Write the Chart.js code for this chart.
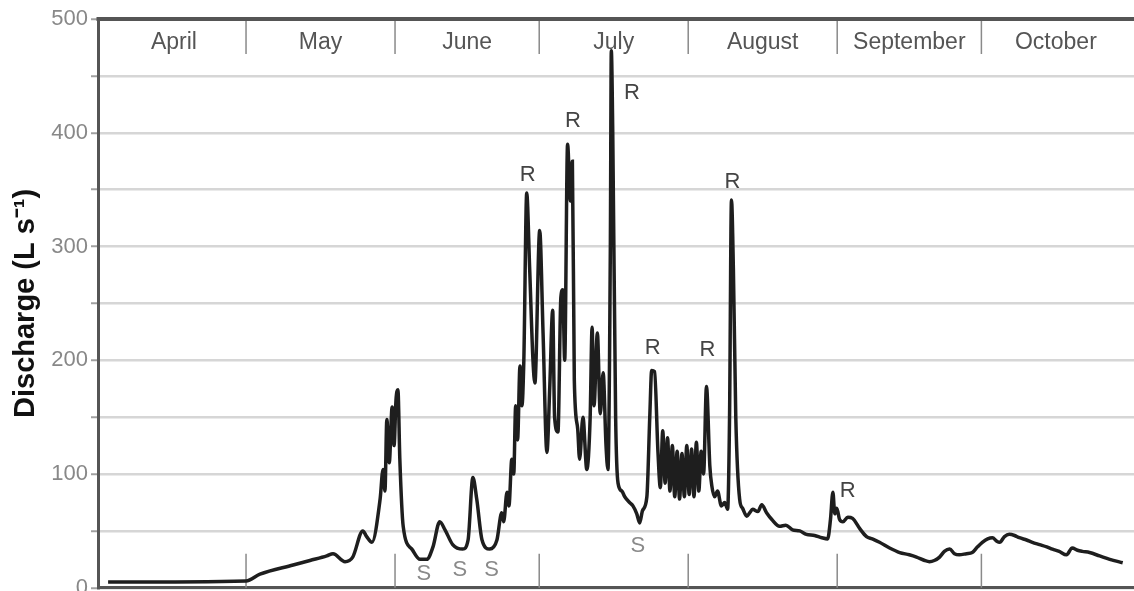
<!DOCTYPE html>
<html>
<head>
<meta charset="utf-8">
<script src="https://cdn.jsdelivr.net/npm/chart.js@4"></script>
<style>
  html, body { margin: 0; padding: 0; background: #fff; overflow: hidden; }
  #wrap { width: 1140px; height: 604px; }
</style>
</head>
<body>
<div id="wrap"><canvas id="chart" width="1140" height="604"></canvas></div>
<script>
// Tage ab 1. April und Abfluss (L/s)
const days = [
    1.3, 30, 32.9, 39.8, 43.3, 46.8, 48.1, 50.6, 52.2, 54.3,
    55.1, 56.2, 57.9, 58.5, 58.9, 59.3, 59.8, 60.4, 60.8, 61.2,
    61.6, 62.0, 62.7, 64.5, 66.2, 67.6, 68.9, 70.3, 71.4, 73.0,
    75.1, 76.2, 77.2, 78.0, 79.1, 80.7, 82.2, 83.2, 83.6, 84.3,
    84.7, 85.3, 85.7, 86.1, 86.5, 87.0, 87.4, 87.8, 88.4, 89.0,
    89.7, 90.1, 91.1, 91.8, 92.6, 93.2, 93.8, 94.2, 94.9, 95.5,
    95.9, 96.3, 96.9, 97.5, 97.9, 98.3, 99.0, 99.4, 100.1, 100.9,
    101.6, 102.0, 102.4, 103.1, 103.7, 104.3, 104.9, 105.3, 105.8, 106.0,
    106.3, 106.9, 107.4, 108.2, 108.8, 109.8, 110.5, 111.3, 111.9, 112.5,
    113.4, 114.0, 114.4, 115.0, 115.7, 116.2, 116.7, 117.2, 117.7, 118.2,
    118.7, 119.2, 119.7, 120.2, 120.7, 121.2, 121.7, 122.2, 122.7, 123.2,
    123.7, 124.2, 124.7, 125.2, 125.8, 126.5, 126.9, 127.5, 128.1, 128.9,
    129.6, 130.2, 130.6, 131.0, 131.4, 131.9, 132.7, 133.3, 134.2, 134.8,
    135.4, 136.5, 137.3, 138.3, 139.4, 141.0, 142.3, 143.7, 145.2, 146.6,
    148.3, 149.8, 151.0, 151.6, 152.1, 152.5, 152.9, 153.5, 154.2, 155.2,
    156.2, 157.7, 159.1, 160.3, 161.8, 163.9, 166.0, 168.0, 169.5, 171.2,
    172.2, 173.2, 174.3, 175.3, 176.4, 177.4, 178.4, 179.9, 181.1, 182.2,
    183.2, 184.3, 185.3, 186.2, 186.8, 187.8, 188.8, 189.9, 190.9, 192.4,
    193.6, 195.1, 196.6, 197.8, 199.2, 200.7, 201.9, 203.0, 204.0, 205.5,
    207.6, 209.7, 212.4
];
const discharge = [
    5, 6, 12, 20, 24, 28, 30, 23, 27, 50,
    45, 40, 78, 104, 85, 148, 110, 159, 125, 165,
    174, 113, 54, 34, 25, 25, 36, 58, 51, 38,
    34, 42, 97, 78, 42, 34, 42, 66, 58, 84,
    72, 113, 100, 160, 130, 195, 160, 200, 347, 282,
    200, 180, 314, 224, 119, 177, 244, 150, 137, 255,
    262, 200, 390, 340, 375, 183, 140, 113, 150, 104,
    150, 229, 160, 224, 153, 189, 125, 104, 300, 472,
    400, 150, 92, 85, 80, 75, 72, 65, 57, 68,
    80, 150, 191, 190, 120, 88, 138, 92, 132, 85,
    125, 80, 120, 78, 118, 80, 125, 82, 122, 80,
    128, 85, 120, 100, 177, 107, 90, 80, 85, 72,
    75, 69, 150, 341, 280, 150, 78, 70, 63, 66,
    69, 67, 73, 66, 60, 54, 55, 51, 50, 47,
    46, 44, 43, 60, 84, 65, 70, 60, 58, 62,
    61, 52, 45, 43, 40, 35, 31, 29, 27, 24,
    23, 24, 27, 32, 34, 30, 29, 30, 31, 36,
    40, 43, 44, 41, 40, 45, 47, 46, 44, 42,
    40, 38, 36, 34, 32, 29, 35, 33, 32, 31,
    28, 25, 22
];

// Monate (Beginn als Tag ab 1. April)
const months = ['April', 'May', 'June', 'July', 'August', 'September', 'October'];
const monthStarts = [0, 30, 61, 91, 122, 153, 183, 214];

// Beschriftungen R (Regen) und S
const rDays = [88.6, 98.0, 110.3, 114.6, 126.0, 131.2, 155.2];
const rValues = [363, 410, 435, 211, 209, 357, 85];
const sDays = [67.0, 74.5, 81.1, 111.5];
const sValues = [12, 16, 16, 37];

const FONT = "'Liberation Sans', Arial, sans-serif";

// Zeichnet Monatsband, Trennstriche, oberen Rahmen und R/S-Marken
const decorPlugin = {
    id: 'decor',
    beforeDatasetsDraw(chart) {
        const { ctx, chartArea: a, scales: { x } } = chart;
        ctx.save();
        ctx.strokeStyle = '#8a8a8a';
        ctx.lineWidth = 1.5;
        monthStarts.forEach((d, i) => {
            if (i === 0 || i === monthStarts.length - 1) return;
            const px = x.getPixelForValue(d);
            ctx.beginPath();
            ctx.moveTo(px, a.top);
            ctx.lineTo(px, a.top + 35);
            ctx.moveTo(px, a.bottom);
            ctx.lineTo(px, a.bottom - 34);
            ctx.stroke();
        });
        ctx.fillStyle = '#555';
        ctx.font = `23px ${FONT}`;
        ctx.textAlign = 'center';
        ctx.textBaseline = 'middle';
        months.forEach((m, i) => {
            const px = x.getPixelForValue((monthStarts[i] + monthStarts[i + 1]) / 2);
            ctx.fillText(m, px, a.top + 24);
        });
        ctx.restore();
    },
    afterDatasetsDraw(chart) {
        const { ctx, chartArea: a, scales: { x, y } } = chart;
        ctx.save();
        ctx.textAlign = 'center';
        ctx.textBaseline = 'middle';
        ctx.font = `22px ${FONT}`;
        ctx.fillStyle = '#444';
        rDays.forEach((d, i) => ctx.fillText('R', x.getPixelForValue(d), y.getPixelForValue(rValues[i])));
        ctx.fillStyle = '#8a8a8a';
        sDays.forEach((d, i) => ctx.fillText('S', x.getPixelForValue(d), y.getPixelForValue(sValues[i])));
        // oberer Rahmen
        ctx.strokeStyle = '#555';
        ctx.lineWidth = 4;
        ctx.beginPath();
        ctx.moveTo(a.left - 1.5, a.top);
        ctx.lineTo(a.right, a.top);
        ctx.stroke();
        ctx.restore();
    }
};

new Chart(document.getElementById('chart'), {
    type: 'line',
    data: {
        datasets: [{
            data: days.map((d, i) => ({ x: d, y: discharge[i] })),
            borderColor: '#1e1e1e',
            borderWidth: 3.5,
            pointRadius: 0,
            cubicInterpolationMode: 'monotone',
            fill: false
        }]
    },
    options: {
        responsive: false,
        animation: false,
        layout: { padding: { top: 19, bottom: 14, left: 0, right: 0 } },
        plugins: { legend: { display: false }, tooltip: { enabled: false } },
        scales: {
            x: {
                type: 'linear',
                min: -0.8,
                max: 216,
                ticks: { display: false },
                grid: { display: false, drawTicks: false },
                border: { display: true, color: '#555', width: 3 }
            },
            y: {
                min: 0,
                max: 500,
                afterFit(scale) { scale.width = 98; },
                ticks: {
                    stepSize: 50,
                    padding: 3,
                    color: '#888',
                    font: { family: FONT, size: 22 },
                    callback: v => (v % 100 === 0 ? v : '')
                },
                grid: { color: '#d6d6d6', lineWidth: 2.5, tickLength: 7, tickColor: '#a0a0a0', tickWidth: 2 },
                border: { display: true, color: '#555', width: 3 },
                title: {
                    display: true,
                    text: 'Discharge (L s\u207B\u00B9)',
                    color: '#111',
                    font: { family: FONT, size: 29, weight: 'bold' },
                    padding: { top: 9, bottom: 0 }
                }
            }
        }
    },
    plugins: [decorPlugin]
});
</script>
</body>
</html>
